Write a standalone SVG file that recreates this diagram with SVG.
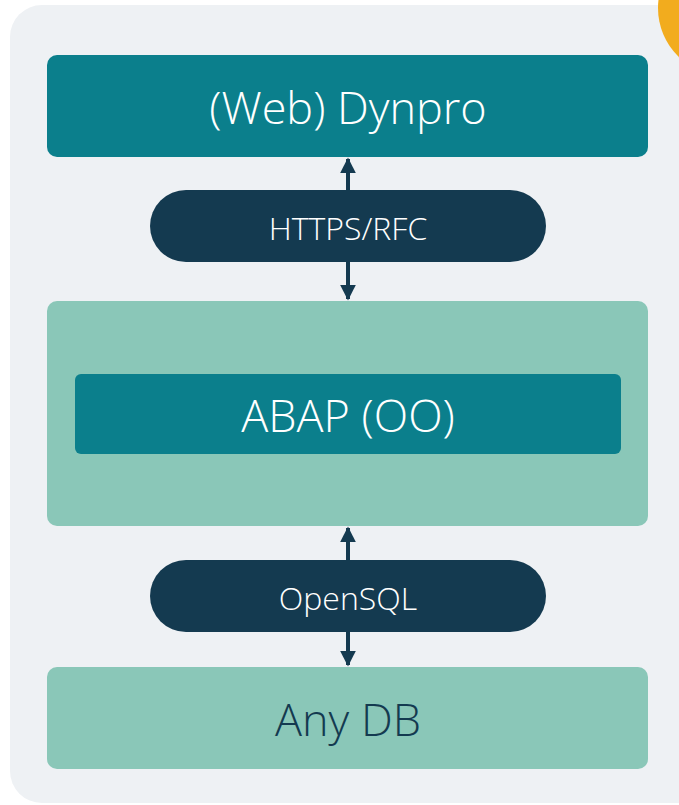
<svg xmlns="http://www.w3.org/2000/svg" width="679" height="805" viewBox="0 0 679 805">
<style>
.lbl{font-family:"Open Sans","Noto Sans","Liberation Sans",sans-serif;font-weight:300;text-anchor:middle;dominant-baseline:central}
.big{font-size:45px}
.small{font-size:32px}
.teal{fill:#0b7f8c}
.mint{fill:#8ac7b8}
.navy{fill:#143a50}
.conn{stroke:#143a50;stroke-width:4;fill:none;marker-start:url(#ah);marker-end:url(#ah)}
</style>
<defs>
<marker id="ah" viewBox="0 0 10 10" refX="9" refY="5" markerWidth="4" markerHeight="4.4" orient="auto-start-reverse" markerUnits="strokeWidth">
<path d="M0,0 L10,5 L0,10 Z" fill="#143a50"/>
</marker>
</defs>
<rect x="0" y="0" width="679" height="805" fill="#ffffff"/>
<rect x="10" y="5" width="720" height="798" rx="32" fill="#eef1f4"/>
<circle cx="726" cy="8" r="68" fill="#f2ac1e"/>
<g id="connectors">
<line class="conn" x1="348" y1="159" x2="348" y2="299"/>
<line class="conn" x1="348" y1="528" x2="348" y2="665"/>
</g>
<g id="webdynpro">
<rect class="teal" x="47" y="55" width="601" height="102" rx="10"/>
<text class="lbl big" x="348" y="106" fill="#ffffff">(Web) Dynpro</text>
</g>
<g id="https">
<rect class="navy" x="150" y="190" width="396" height="72" rx="36"/>
<text class="lbl small" x="348" y="227" fill="#ffffff">HTTPS/RFC</text>
</g>
<g id="abap-container">
<rect class="mint" x="47" y="301" width="601" height="225" rx="10"/>
</g>
<g id="abap">
<rect class="teal" x="75" y="374" width="546" height="80" rx="6"/>
<text class="lbl big" x="348" y="414" fill="#ffffff">ABAP (OO)</text>
</g>
<g id="opensql">
<rect class="navy" x="150" y="560" width="396" height="72" rx="36"/>
<text class="lbl small" x="348" y="597" fill="#ffffff">OpenSQL</text>
</g>
<g id="anydb">
<rect class="mint" x="47" y="667" width="601" height="102" rx="10"/>
<text class="lbl big" x="348" y="718" fill="#143a50">Any DB</text>
</g>
</svg>
